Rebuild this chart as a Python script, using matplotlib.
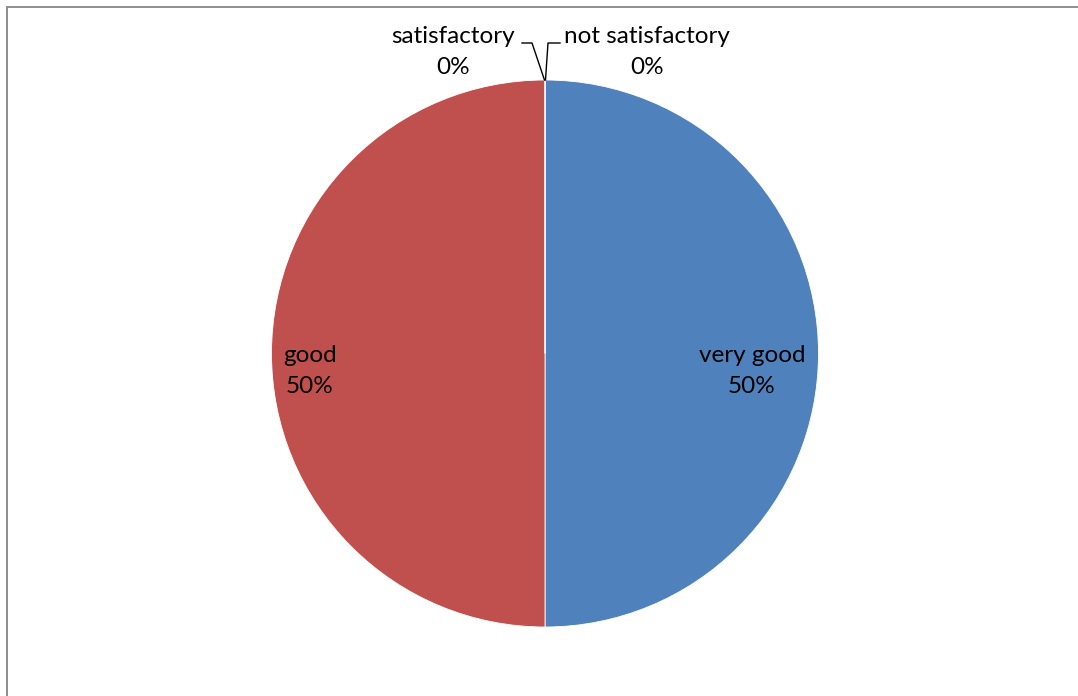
import matplotlib
matplotlib.use('Agg')
import matplotlib.pyplot as plt
import matplotlib.patches as mpatches

# data
categories = ['very good', 'good', 'satisfactory', 'not satisfactory']
values = [50, 50, 0, 0]
colors = ['#4F81BD', '#C0504D', '#9BBB59', '#8064A2']

W, H = 1078, 696
plt.rcParams['font.family'] = ['Lato', 'DejaVu Sans']

fig = plt.figure(figsize=(W / 100, H / 100), dpi=100)
ax = fig.add_axes([0, 0, 1, 1])

# chart area border (cropped at right and bottom)
fig.patches.append(mpatches.Rectangle((6.5 / W, -0.1), 1.2, (H - 7) / H + 0.1,
                                      transform=fig.transFigure, fill=False,
                                      edgecolor='#868686', linewidth=1.3))

cx, cy, r = 545, H - 353.5, 273.5
ax.pie(values, colors=colors, startangle=90, counterclock=False,
       center=(cx, cy), radius=r, frame=True,
       wedgeprops={'linewidth': 0.6, 'edgecolor': 'white'})
ax.set_xlim(0, W)
ax.set_ylim(0, H)
ax.set_aspect('equal')
ax.axis('off')

total = sum(values)
pct = [f'{round(v / total * 100)}%' for v in values]

# label positions (pixels from top-left)
label_pos = [(752, 371), (310, 371), (453, 52), (647, 52)]
for name, p, (x, y) in zip(categories, pct, label_pos):
    ax.text(x, H - y, f'{name}\n{p}', ha='center', va='center',
            fontsize=17.5, color='black', linespacing=1.55)

# leader lines for the 0% slices
ax.plot([522, 532, 544.5], [H - 43, H - 43, H - 80], color='black', lw=1)
ax.plot([560, 548, 545.5], [H - 43, H - 43, H - 80], color='black', lw=1)

fig.savefig('out.png', dpi=100)
